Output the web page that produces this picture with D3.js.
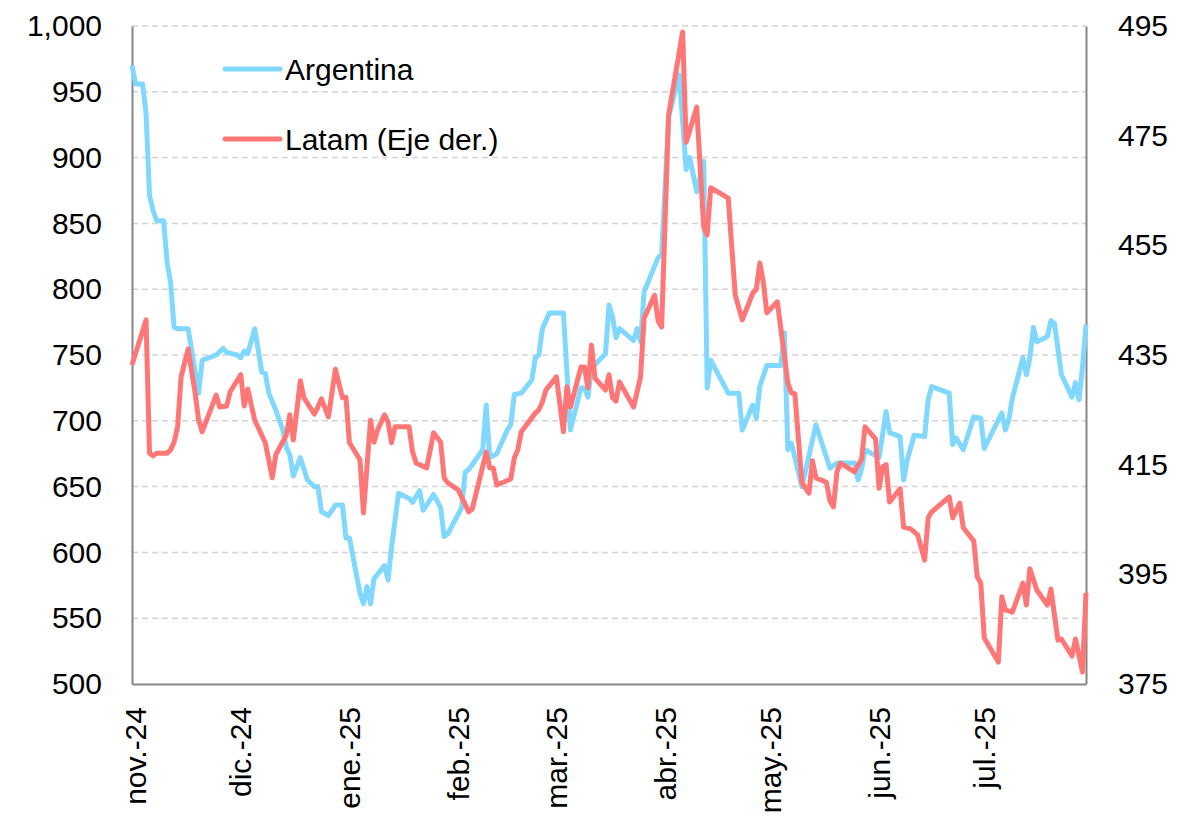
<!DOCTYPE html>
<html>
<head>
<meta charset="utf-8">
<script src="https://cdn.jsdelivr.net/npm/d3@7"></script>
<style>
  body { margin: 0; background: #fff; }
  text { font-family: "Liberation Sans", Arial, sans-serif; fill: #000; }
</style>
</head>
<body>
<div id="chart"></div>
<script>
// tick labels
let monthLabels = ["nov.-24", "dic.-24", "ene.-25", "feb.-25", "mar.-25", "abr.-25", "may.-25", "jun.-25", "jul.-25"];
let leftTicks = [500, 550, 600, 650, 700, 750, 800, 850, 900, 950, 1000];
let rightTicks = [375, 395, 415, 435, 455, 475, 495];

// Argentina (eje izq.)
let argDates = ["2024-11-01","2024-11-02","2024-11-04","2024-11-05","2024-11-06","2024-11-07","2024-11-08","2024-11-10","2024-11-11","2024-11-12",
  "2024-11-13","2024-11-14","2024-11-17","2024-11-20","2024-11-21","2024-11-24","2024-11-25","2024-11-27","2024-11-28","2024-12-01",
  "2024-12-02","2024-12-03","2024-12-04","2024-12-06","2024-12-08","2024-12-09","2024-12-10","2024-12-12","2024-12-14","2024-12-15",
  "2024-12-16","2024-12-17","2024-12-19","2024-12-21","2024-12-23","2024-12-24","2024-12-25","2024-12-27","2024-12-29","2024-12-31",
  "2025-01-01","2025-01-02","2025-01-05","2025-01-06","2025-01-07","2025-01-08","2025-01-09","2025-01-12","2025-01-13","2025-01-14",
  "2025-01-16","2025-01-19","2025-01-20","2025-01-22","2025-01-23","2025-01-26","2025-01-28","2025-01-29","2025-01-30","2025-02-03",
  "2025-02-04","2025-02-05","2025-02-09","2025-02-10","2025-02-11","2025-02-13","2025-02-16","2025-02-17","2025-02-18","2025-02-20",
  "2025-02-23","2025-02-24","2025-02-25","2025-02-26","2025-02-28","2025-03-04","2025-03-06","2025-03-09","2025-03-10","2025-03-11",
  "2025-03-12","2025-03-16","2025-03-17","2025-03-18","2025-03-19","2025-03-20","2025-03-24","2025-03-25","2025-03-26","2025-03-27",
  "2025-03-31","2025-04-01","2025-04-03","2025-04-06","2025-04-08","2025-04-09","2025-04-11","2025-04-13","2025-04-14","2025-04-15",
  "2025-04-20","2025-04-23","2025-04-24","2025-04-27","2025-04-28","2025-04-29","2025-05-01","2025-05-05","2025-05-06","2025-05-07",
  "2025-05-08","2025-05-11","2025-05-15","2025-05-19","2025-05-21","2025-05-26","2025-05-27","2025-05-28","2025-05-29","2025-06-02",
  "2025-06-04","2025-06-05","2025-06-08","2025-06-09","2025-06-10","2025-06-12","2025-06-15","2025-06-16","2025-06-17","2025-06-22",
  "2025-06-23","2025-06-24","2025-06-26","2025-06-29","2025-07-01","2025-07-02","2025-07-07","2025-07-08","2025-07-09","2025-07-10",
  "2025-07-13","2025-07-14","2025-07-15","2025-07-16","2025-07-17","2025-07-20","2025-07-21","2025-07-22","2025-07-24","2025-07-27",
  "2025-07-28","2025-07-29","2025-07-30","2025-07-31"];
let argValues = [970, 956, 956, 934, 871, 860, 852, 852, 821, 805,
  771, 770, 770, 721, 746, 749, 750, 755, 752, 750,
  748, 753, 751, 770, 737, 736, 721, 708, 693, 680,
  674, 658, 672, 655, 650, 650, 631, 628, 636, 636,
  611, 611, 569, 561, 574, 561, 580, 590, 579, 604,
  645, 641, 638, 647, 632, 644, 634, 612, 614, 634,
  661, 663, 678, 712, 672, 675, 693, 697, 720, 721,
  731, 748, 750, 770, 782, 782, 693, 725, 725, 718,
  740, 751, 788, 779, 763, 770, 761, 770, 760, 798,
  824, 826, 931, 963, 891, 900, 874, 897, 725, 746,
  721, 721, 693, 712, 702, 726, 742, 742, 767, 678,
  683, 650, 697, 664, 668, 668, 655, 663, 678, 672,
  707, 691, 688, 655, 670, 689, 688, 716, 726, 721,
  682, 687, 678, 703, 702, 679, 706, 693, 701, 717,
  748, 735, 748, 771, 760, 764, 776, 774, 735, 718,
  729, 716, 741, 773];

// Latam (eje der.)
let latDates = ["2024-11-01","2024-11-05","2024-11-06","2024-11-07","2024-11-08","2024-11-11","2024-11-12","2024-11-13","2024-11-14","2024-11-15",
  "2024-11-17","2024-11-19","2024-11-20","2024-11-21","2024-11-25","2024-11-26","2024-11-28","2024-11-29","2024-12-02","2024-12-03",
  "2024-12-04","2024-12-06","2024-12-09","2024-12-11","2024-12-12","2024-12-15","2024-12-16","2024-12-17","2024-12-19","2024-12-20",
  "2024-12-23","2024-12-24","2024-12-25","2024-12-27","2024-12-29","2024-12-31","2025-01-01","2025-01-02","2025-01-05","2025-01-06",
  "2025-01-08","2025-01-09","2025-01-10","2025-01-12","2025-01-13","2025-01-14","2025-01-15","2025-01-19","2025-01-20","2025-01-21",
  "2025-01-24","2025-01-26","2025-01-28","2025-01-29","2025-01-30","2025-02-02","2025-02-05","2025-02-06","2025-02-10","2025-02-11",
  "2025-02-12","2025-02-13","2025-02-17","2025-02-18","2025-02-19","2025-02-20","2025-02-24","2025-02-25","2025-02-26","2025-02-27",
  "2025-03-02","2025-03-04","2025-03-05","2025-03-06","2025-03-09","2025-03-10","2025-03-11","2025-03-12","2025-03-13","2025-03-16",
  "2025-03-17","2025-03-18","2025-03-19","2025-03-20","2025-03-24","2025-03-26","2025-03-27","2025-03-30","2025-03-31","2025-04-01",
  "2025-04-03","2025-04-07","2025-04-08","2025-04-11","2025-04-13","2025-04-14","2025-04-15","2025-04-20","2025-04-22","2025-04-24",
  "2025-04-27","2025-04-28","2025-04-29","2025-04-30","2025-05-01","2025-05-04","2025-05-07","2025-05-08","2025-05-09","2025-05-11",
  "2025-05-13","2025-05-14","2025-05-15","2025-05-18","2025-05-19","2025-05-20","2025-05-21","2025-05-22","2025-05-26","2025-05-28",
  "2025-05-29","2025-06-01","2025-06-02","2025-06-03","2025-06-04","2025-06-05","2025-06-08","2025-06-09","2025-06-11","2025-06-13",
  "2025-06-15","2025-06-16","2025-06-17","2025-06-22","2025-06-23","2025-06-25","2025-06-26","2025-06-29","2025-06-30","2025-07-01",
  "2025-07-02","2025-07-06","2025-07-07","2025-07-08","2025-07-10","2025-07-13","2025-07-14","2025-07-15","2025-07-17","2025-07-20",
  "2025-07-21","2025-07-23","2025-07-24","2025-07-27","2025-07-28","2025-07-30","2025-07-31"];
let latValues = [433.2, 441.4, 417.1, 416.6, 417.1, 417.1, 417.7, 419.1, 421.9, 431.0,
  436.1, 428.1, 423.1, 421.0, 427.7, 425.5, 425.7, 428.3, 431.4, 425.7,
  428.8, 423.1, 419.0, 412.6, 416.8, 420.4, 424.1, 419.5, 430.3, 427.2,
  424.2, 425.5, 427.0, 423.7, 432.4, 427.2, 427.3, 419.0, 415.9, 406.2,
  423.1, 419.1, 421.3, 424.1, 422.8, 419.0, 421.9, 421.9, 417.3, 415.3,
  414.4, 420.8, 419.1, 412.6, 411.7, 410.4, 406.4, 406.9, 417.3, 414.4,
  414.4, 411.3, 412.4, 416.2, 417.7, 421.0, 424.4, 425.0, 426.4, 428.6,
  431.0, 421.0, 429.2, 425.5, 432.8, 432.8, 429.0, 436.8, 430.8, 428.6,
  431.4, 427.2, 426.6, 430.1, 425.5, 431.0, 441.7, 445.9, 441.2, 440.1,
  478.8, 493.9, 473.8, 480.2, 458.3, 456.9, 465.5, 463.6, 445.9, 441.4,
  446.3, 447.0, 451.8, 448.3, 442.7, 444.7, 429.9, 428.1, 427.9, 411.7,
  409.8, 415.7, 412.6, 411.8, 408.4, 407.3, 413.7, 415.3, 413.7, 416.0,
  421.9, 419.7, 410.7, 414.6, 415.0, 408.2, 410.6, 403.6, 403.3, 402.2,
  397.6, 405.3, 406.4, 409.1, 405.3, 408.0, 403.5, 401.1, 394.5, 393.4,
  383.4, 379.0, 390.9, 388.5, 388.1, 393.4, 389.4, 396.0, 392.1, 389.4,
  392.3, 383.0, 383.2, 380.1, 383.2, 377.2, 391.6];

let parseDate = d3.timeParse("%Y-%m-%d");
let argData = argDates.map((d, i) => ({date: parseDate(d), value: argValues[i]}));
let latData = latDates.map((d, i) => ({date: parseDate(d), value: latValues[i]}));

let margin = {top: 26, right: 92, bottom: 132, left: 132};
let totalW = 1178, totalH = 816;
let width = totalW - margin.left - margin.right;
let height = totalH - margin.top - margin.bottom;

let svg = d3.select('#chart')
    .append('svg')
    .attr("width", totalW)
    .attr("height", totalH)
    .append('g')
    .attr("transform", "translate(" + margin.left + "," + margin.top + ")");

let xScale = d3.scaleTime()
    .domain([parseDate("2024-11-01"), parseDate("2025-07-31")])
    .range([0, width]);

let yLeft = d3.scaleLinear().domain([500, 1000]).range([height, 0]);
let yRight = d3.scaleLinear().domain([375, 495]).range([height, 0]);

// gridlines (left axis)
svg.append('g')
    .selectAll('line')
    .data(leftTicks.filter(d => d > 500))
    .enter()
    .append('line')
    .attr('x1', 0)
    .attr('x2', width)
    .attr('y1', d => yLeft(d))
    .attr('y2', d => yLeft(d))
    .attr('stroke', '#d3d3d3')
    .attr('stroke-width', 1.5)
    .attr('stroke-dasharray', '6,4');

// axes
let fmt = d3.format(",");
let leftAxis = d3.axisLeft(yLeft).tickValues(leftTicks).tickSize(0).tickPadding(30).tickFormat(fmt);
let gl = svg.append('g').call(leftAxis);

let rightAxis = d3.axisRight(yRight).tickValues(rightTicks).tickSize(0).tickPadding(32);
let gr = svg.append('g').attr("transform", "translate(" + width + ",0)").call(rightAxis);

let monthDates = d3.timeMonth.range(parseDate("2024-11-01"), parseDate("2025-07-31"));
let bottomAxis = d3.axisBottom(xScale).tickValues(monthDates).tickSize(0)
    .tickFormat((d, i) => monthLabels[i]);
let gb = svg.append('g').attr("transform", "translate(0," + height + ")").call(bottomAxis);

gb.selectAll('text')
    .attr('transform', 'rotate(-90)')
    .attr('text-anchor', 'end')
    .attr('x', -23)
    .attr('y', 3)
    .attr('dy', '0.35em');

[gl, gr, gb].forEach(function (g) {
    g.select('.domain').attr('stroke', '#868686').attr('stroke-width', 2);
    g.selectAll('text').style('font-size', '30px').style('font-family', '"Liberation Sans", Arial, sans-serif').attr('fill', '#000');
});

// lines
let argLine = d3.line()
    .x(d => xScale(d.date))
    .y(d => yLeft(d.value));

let latLine = d3.line()
    .x(d => xScale(d.date))
    .y(d => yRight(d.value));

svg.append('path')
    .datum(argData)
    .attr('d', argLine)
    .attr('fill', 'none')
    .attr('stroke', '#80d8ff')
    .attr('stroke-width', 5)
    .attr('stroke-linejoin', 'round');

svg.append('path')
    .datum(latData)
    .attr('d', latLine)
    .attr('fill', 'none')
    .attr('stroke', '#ff7676')
    .attr('stroke-width', 5)
    .attr('stroke-linejoin', 'round');

// legend
let legend = [
    {name: "Argentina", color: '#80d8ff'},
    {name: "Latam (Eje der.)", color: '#ff7676'}
];
let lg = svg.selectAll('.legend')
    .data(legend)
    .enter()
    .append('g')
    .attr('class', 'legend')
    .attr('transform', (d, i) => "translate(" + (225 - margin.left) + "," + (69 - margin.top + i * 70) + ")");

lg.append('line')
    .attr('x1', 0).attr('x2', 55)
    .attr('stroke', d => d.color)
    .attr('stroke-width', 5)
    .attr('stroke-linecap', 'round');

lg.append('text')
    .attr('x', 60)
    .attr('dy', '0.35em')
    .style('font-size', '30px')
    .text(d => d.name);
</script>
</body>
</html>
